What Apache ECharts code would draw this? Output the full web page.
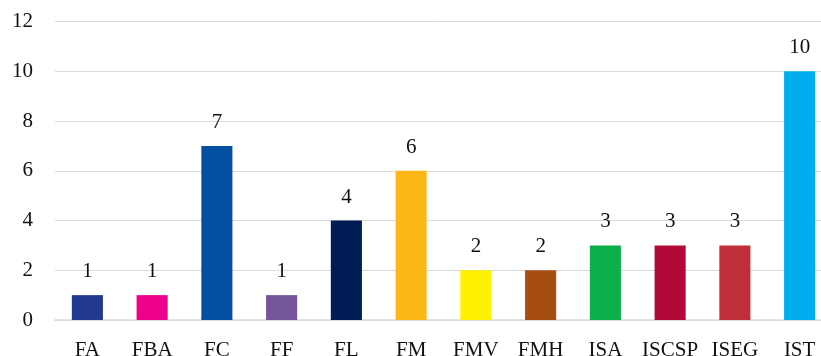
<!DOCTYPE html>
<html>
<head>
<meta charset="utf-8">
<script src="https://cdn.jsdelivr.net/npm/echarts@6/dist/echarts.min.js"></script>
<style>
  html, body { margin: 0; padding: 0; background: #fff; }
  #chart { width: 821px; height: 356px; }
</style>
</head>
<body>
<div id="chart"></div>
<script>
// Schools and their counts
const categories = ['FA', 'FBA', 'FC', 'FF', 'FL', 'FM', 'FMV', 'FMH', 'ISA', 'ISCSP', 'ISEG', 'IST'];
const values = [1, 1, 7, 1, 4, 6, 2, 2, 3, 3, 3, 10];
const barColors = ['#21398f', '#ec008c', '#054fa3', '#74549a', '#001c54', '#fab716',
                   '#fff200', '#a64d11', '#0daf4b', '#b20a38', '#c02e3a', '#00aeef'];
const yTicks = [0, 2, 4, 6, 8, 10, 12];

const font = 'Liberation Serif, Times New Roman, serif';
const chart = echarts.init(document.getElementById('chart'), null, { renderer: 'canvas' });

chart.setOption({
  animation: false,
  // the plot area runs slightly past the right edge of the canvas
  grid: { left: 55, width: 777, top: 21.5, bottom: 36, containLabel: false, outerBoundsMode: 'none' },
  xAxis: {
    type: 'category',
    data: categories,
    axisLine: { show: true, lineStyle: { color: '#d9d9d9', width: 1.5 } },
    axisTick: { show: false },
    axisLabel: { interval: 0, color: '#111', fontFamily: font, fontSize: 21, margin: 20 }
  },
  yAxis: {
    type: 'value',
    min: yTicks[0],
    max: yTicks[yTicks.length - 1],
    interval: 2,
    axisLine: { show: false },
    axisTick: { show: false },
    splitLine: { lineStyle: { color: '#d9d9d9', width: 1 } },
    axisLabel: { color: '#111', fontFamily: font, fontSize: 21, margin: 22 }
  },
  series: [{
    type: 'bar',
    data: values.map((v, i) => ({ value: v, itemStyle: { color: barColors[i] } })),
    barWidth: '48%',
    label: {
      show: true,
      position: 'top',
      distance: 13,
      color: '#111',
      fontFamily: font,
      fontSize: 21
    }
  }]
});
</script>
</body>
</html>
